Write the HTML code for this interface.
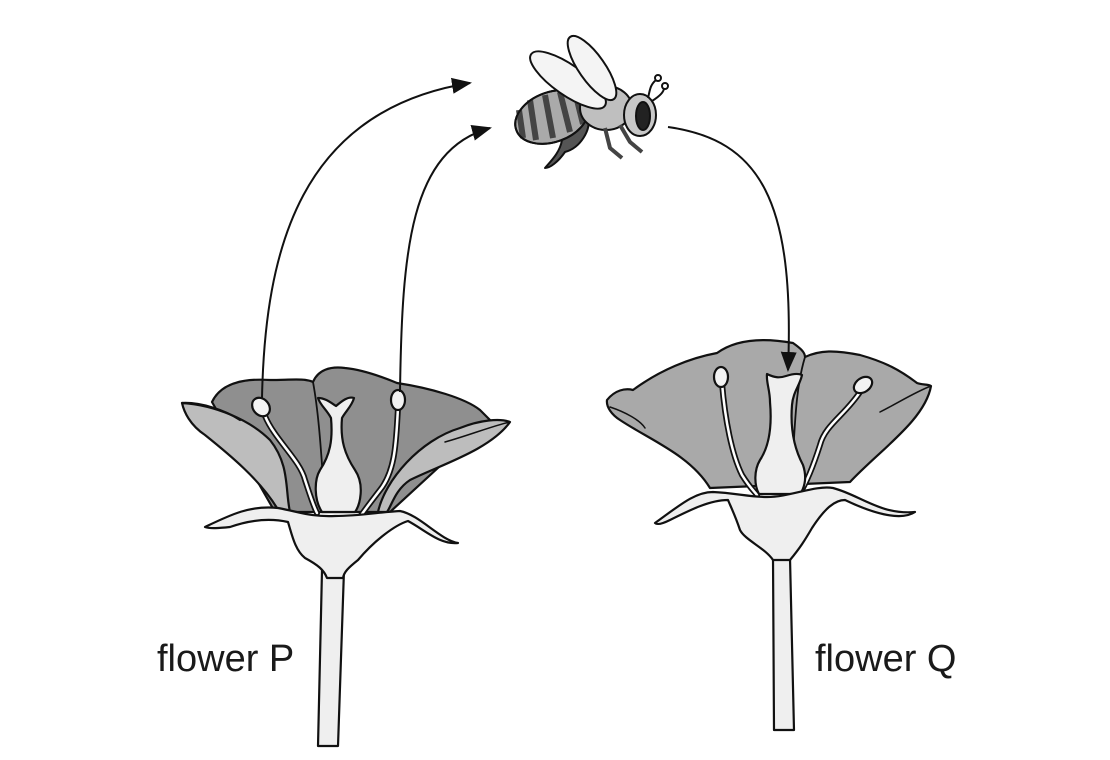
<!DOCTYPE html>
<html><head><meta charset="utf-8"><style>
html,body{margin:0;padding:0;background:#fff;width:1110px;height:760px;overflow:hidden}
svg{display:block}
text{font-family:"Liberation Sans",sans-serif;font-size:38px;fill:#1a1a1a}
</style></head><body>
<svg width="1110" height="760" viewBox="0 0 1110 760" xmlns="http://www.w3.org/2000/svg">
<defs>
<marker id="ah2" markerWidth="20" markerHeight="20" refX="18" refY="10" orient="auto" markerUnits="userSpaceOnUse" viewBox="0 0 20 20">
<path d="M0,2 L20,10 L0,18 z" fill="#111"/></marker>
</defs>
<g stroke="#111" stroke-width="2.2" stroke-linejoin="round" stroke-linecap="round">
<!-- FLOWER P -->
<path d="M322,570 L318,746 L338,746 L344,570 z" fill="#efefef"/>
<path d="M212,402 C220,385 240,378 270,380 C290,380 305,378 313,382 C318,370 330,366 345,368 C365,370 385,378 397,383 C430,388 465,398 480,410 L490,420 L390,512 L275,512 z" fill="#8f8f8f"/>
<path d="M182,403 C215,405 250,420 270,440 C290,465 285,490 290,512 L277,508 C260,480 230,455 205,435 C190,425 184,412 182,403 z" fill="#bdbdbd"/>
<path d="M182,403 C200,402 225,410 240,420" fill="none"/>
<path d="M510,422 C490,450 440,465 410,480 C395,490 392,505 387,512 L378,512 C385,480 420,440 460,428 C480,420 500,418 510,422 z" fill="#bdbdbd"/>
<path d="M510,422 C495,425 470,435 445,442" fill="none" stroke-width="1.5"/>
<path d="M313,382 C320,420 322,470 325,505" fill="none" stroke-width="1.8"/>
<path d="M265,416 C275,440 300,460 305,480 C310,495 313,505 317,513" fill="none" stroke-width="6"/>
<path d="M265,416 C275,440 300,460 305,480 C310,495 313,505 317,513" fill="none" stroke="#fff" stroke-width="2.5"/>
<path d="M398,408 C396,440 396,470 380,490 C370,503 363,512 360,517" fill="none" stroke-width="6"/>
<path d="M398,408 C396,440 396,470 380,490 C370,503 363,512 360,517" fill="none" stroke="#fff" stroke-width="2.5"/>
<ellipse cx="261" cy="407" rx="8" ry="10" transform="rotate(-40 261 407)" fill="#f3f3f3"/>
<ellipse cx="398" cy="400" rx="7" ry="10" fill="#f3f3f3"/>
<path d="M318,398 C325,398 330,402 336,406 C342,401 348,396 354,398 C352,406 345,412 342,418 C340,440 345,455 355,470 C365,485 360,505 355,512 L322,512 C314,500 314,480 320,470 C330,455 333,440 331,418 C327,410 320,405 318,398 z" fill="#efefef"/>
<path d="M205,527 C230,515 250,505 278,508 C300,512 310,517 335,516 C360,516 380,512 400,511 C420,515 440,540 458,543 C440,545 425,530 408,521 C395,525 375,540 358,560 C348,568 344,572 343,578 L327,578 C324,570 318,565 305,558 C295,550 292,535 288,522 C270,518 250,520 230,527 C220,528 210,529 205,527 z" fill="#efefef"/>
<!-- FLOWER Q -->
<path d="M773,558 L774,730 L794,730 L790,558 z" fill="#efefef"/>
<path d="M607,400 C615,390 625,388 633,390 C660,370 690,358 717,353 C735,340 760,337 793,343 C800,348 805,352 805,357 C820,350 835,350 860,355 C885,362 900,370 917,383 C922,385 928,384 931,386 C925,420 880,450 850,482 L710,488 C690,455 650,440 620,420 C612,415 606,407 607,400 z" fill="#a9a9a9"/>
<path d="M805,357 C795,390 795,430 792,470" fill="none" stroke-width="1.8"/>
<path d="M610,407 C625,412 640,420 645,428" fill="none" stroke-width="1.5"/>
<path d="M931,386 C915,392 898,403 880,412" fill="none" stroke-width="1.5"/>
<path d="M722,383 C725,420 732,455 742,475 C750,488 755,492 757,495" fill="none" stroke-width="6"/>
<path d="M722,383 C725,420 732,455 742,475 C750,488 755,492 757,495" fill="none" stroke="#fff" stroke-width="2.5"/>
<path d="M860,392 C845,415 825,425 820,445 C812,470 805,485 800,493" fill="none" stroke-width="6"/>
<path d="M860,392 C845,415 825,425 820,445 C812,470 805,485 800,493" fill="none" stroke="#fff" stroke-width="2.5"/>
<ellipse cx="721" cy="377" rx="7" ry="10" fill="#f3f3f3"/>
<ellipse cx="863" cy="385" rx="10" ry="7" transform="rotate(-35 863 385)" fill="#f3f3f3"/>
<path d="M767,374 C775,378 780,378 786,376 C792,374 798,373 802,375 C800,385 793,392 792,405 C790,430 795,450 803,465 C808,480 803,490 800,494 L759,494 C754,485 754,470 760,460 C770,445 772,425 770,402 C770,390 766,382 767,374 z" fill="#efefef"/>
<path d="M655,523 C680,505 695,492 713,492 C735,493 750,497 767,497 C790,497 815,485 833,488 C860,495 880,515 915,512 C900,522 870,512 845,500 C835,500 825,508 812,528 C805,540 800,548 790,560 L773,560 C765,548 745,540 740,530 C735,515 730,505 728,500 C710,500 690,510 670,520 C662,524 657,525 655,523 z" fill="#efefef"/>
</g>
<g fill="none" stroke="#111" stroke-width="2">
<path d="M262,398 C265,250 300,110 470,83" marker-end="url(#ah2)"/>
<path d="M400,392 C402,250 410,150 490,128" marker-end="url(#ah2)"/>
<path d="M668,127 C760,140 795,200 788,370" marker-end="url(#ah2)"/>
</g>
<!-- BEE -->
<g stroke="#111" stroke-width="2" stroke-linejoin="round">
<path d="M588,115 C592,130 580,148 565,152 C558,162 550,168 545,168 C552,160 560,152 562,140 C568,125 575,115 588,115 z" fill="#555"/>
<ellipse cx="552" cy="117" rx="38" ry="25" transform="rotate(-20 552 117)" fill="#aaa"/>
<g stroke="#444" stroke-width="6" fill="none">
<path d="M530,100 L536,140"/><path d="M545,95 L553,138"/><path d="M560,92 L570,132"/><path d="M575,92 L583,124"/><path d="M519,110 L523,138"/>
</g>
<ellipse cx="552" cy="117" rx="38" ry="25" transform="rotate(-20 552 117)" fill="none"/>
<ellipse cx="606" cy="108" rx="26" ry="22" fill="#bfbfbf"/>
<path d="M605,128 L610,148 L622,158" fill="none" stroke="#444" stroke-width="4"/>
<path d="M620,125 L630,142 L642,152" fill="none" stroke="#444" stroke-width="4"/>
<ellipse cx="640" cy="115" rx="16" ry="21" fill="#c8c8c8"/>
<ellipse cx="643" cy="116" rx="7" ry="14" fill="#222"/>
<path d="M648,98 C650,90 650,85 656,80" fill="none"/><circle cx="658" cy="78" r="3" fill="#fff"/>
<path d="M652,101 C660,96 664,92 664,88" fill="none"/><circle cx="665" cy="86" r="3" fill="#fff"/>
<ellipse cx="568" cy="80" rx="45" ry="15" transform="rotate(35 568 80)" fill="#f4f4f4"/>
<ellipse cx="592" cy="68" rx="38" ry="13" transform="rotate(55 592 68)" fill="#f4f4f4"/>
</g>
<text x="157" y="671">flower P</text>
<text x="815" y="671">flower Q</text>
</svg>
</body></html>
